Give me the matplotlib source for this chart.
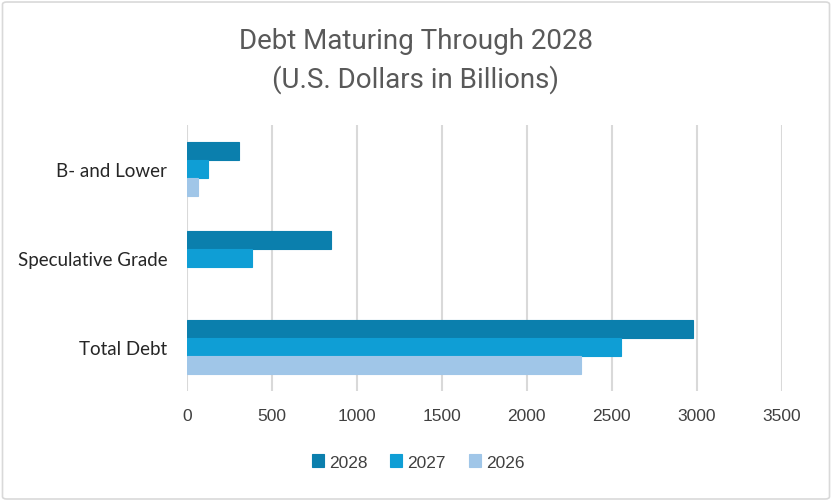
import matplotlib.pyplot as plt
import numpy as np
from matplotlib.patches import FancyBboxPatch

categories = ["B- and Lower", "Speculative Grade", "Total Debt"]
years = ["2028", "2027", "2026"]
debt_2028 = [309, 849, 2976]
debt_2027 = [123, 386, 2557]
debt_2026 = [68, np.nan, 2318]
colors = ["#0b7fad", "#0f9ed5", "#a0c6e8"]

fig = plt.figure(figsize=(8.32, 5.02), dpi=100)
ax = fig.add_axes([186.7 / 832, 1 - 392 / 502, 595 / 832, 266 / 502])

y = np.arange(len(categories))
h = 0.203
for i, (vals, yr) in enumerate(zip([debt_2028, debt_2027, debt_2026], years)):
    ax.barh(y + (i - 1) * h, vals, height=h, color=colors[i], label=yr,
            edgecolor=colors[i], linewidth=0.8, zorder=3)

ax.set_xlim(0, 3500)
ax.set_ylim(2.5, -0.5)
ax.set_xticks(range(0, 3501, 500))
ax.set_yticks(y)
ax.set_yticklabels(categories, fontsize=13.5, color="#262626", family=["Lato", "DejaVu Sans"])
for lbl in ax.get_xticklabels():
    lbl.set_fontsize(12.5)
    lbl.set_color("#404040")
    lbl.set_family(["Liberation Sans", "DejaVu Sans"])
ax.tick_params(axis="both", length=0)
ax.tick_params(axis="y", pad=14)
ax.tick_params(axis="x", pad=12)
ax.grid(axis="x", color="#d9d9d9", linewidth=1.5, zorder=0)
for s in ax.spines.values():
    s.set_visible(False)

title_font = ["Roboto", "DejaVu Sans"]
fig.text(0.5, 1 - 49 / 502, "Debt Maturing Through 2028", ha="center", va="baseline",
         fontsize=20, color="#595959", family=title_font)
fig.text(0.5, 1 - 88 / 502, "(U.S. Dollars in Billions)", ha="center", va="baseline",
         fontsize=20, color="#595959", family=title_font)

leg = fig.legend(loc="center", bbox_to_anchor=(418 / 832, 1 - 463 / 502), ncol=3,
                 frameon=False, prop={"family": "Liberation Sans", "size": 12.5},
                 handlelength=0.7, handleheight=0.7, handletextpad=0.3, columnspacing=1.3)
for t in leg.get_texts():
    t.set_color("#404040")

fig.patches.append(FancyBboxPatch((0.003, 0.004), 0.994, 0.99, boxstyle="round,pad=0,rounding_size=0.005",
                                  transform=fig.transFigure, fill=False, edgecolor="#d9d9d9", linewidth=1.2))

fig.savefig("out.png", dpi=100)
